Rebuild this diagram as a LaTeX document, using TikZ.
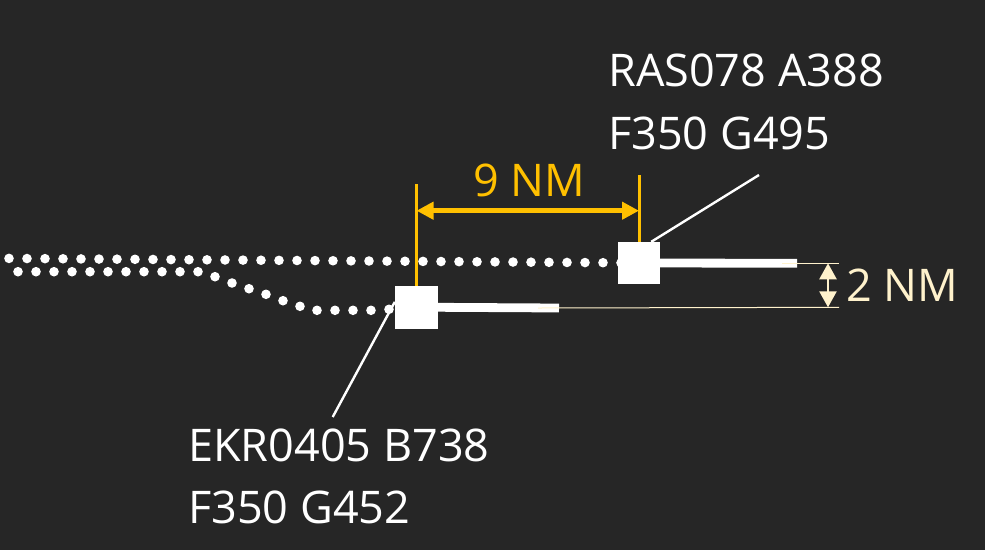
\documentclass[tikz,border=0pt]{standalone}
\usepackage{fontspec}
\setmainfont{Open Sans}
\usetikzlibrary{arrows.meta}
\begin{document}
\begin{tikzpicture}[x=1pt,y=-1pt,
  plane/.style={fill=white,minimum size=43,inner sep=0},
  tag/.style={white,anchor=base west,align=left,inner sep=0,font=\fontsize{45}{62.5}\selectfont},
  dimtext/.style={inner sep=0,anchor=base,font=\fontsize{45}{54}\selectfont},
  leader/.style={white,line width=2.4},
  trail/.style={white,line width=8.8}]
\definecolor{night}{HTML}{262626}
\definecolor{amber}{HTML}{FFC000}
\definecolor{cream}{HTML}{FFF2CC}
\useasboundingbox (0,0) rectangle (985,550);
\fill[night] (0,0) rectangle (985,550);
  \foreach \i in {0,...,34}
  {  \fill[white] (9+18*\i,258.4+0.13*\i) circle (4.8);}
  \foreach \i in {0,...,10}
  {  \fill[white] (18+18*\i,271.7) circle (4.8);}
  \foreach \x/\y in {215/276.7,232/283,249/288.7,266/294.3,283/300.7,300/306.3,317/310.3,335/310.3,353/310.3,371/310.3,389/309.3}
  {  \fill[white] (\x,\y) circle (4.8);}
\node [plane,minimum size=42] (ras) at (639,263) {};
\node [plane] (ekr) at (416.5,307.3) {};
\coordinate (ras-end) at (797,263.3);
\coordinate (ekr-end) at (559,308);
\draw[trail] (ras.east) -- (ras-end);
\draw[trail] (ekr.east) -- (ekr-end);
\coordinate (gap-top) at (839,263.3);
\coordinate (gap-bot) at (839,307.3);
\draw[cream,line width=1] ([xshift=-15]ras-end) -- (gap-top);
\draw[cream,line width=1] ([xshift=-21]ekr-end) -- (gap-bot);
\draw[cream,line width=2.5,{Triangle[length=16pt,width=17pt]}-{Triangle[length=16pt,width=17pt]}]
  ([xshift=-11]gap-top) -- ([xshift=-11]gap-bot);
\node [dimtext,cream,anchor=base west] (two-label) at (846,301.7) {2 NM};
\coordinate (ras-mark) at (639,175);
\coordinate (ekr-mark) at (416.5,184);
\coordinate (nine) at (529.5,210.7);
\draw[amber,line width=3] (ras-mark) -- (ras.north);
\draw[amber,line width=3] (ekr-mark) -- (ekr.north);
\draw[amber,line width=5,{Triangle[length=17pt,width=17pt]}-{Triangle[length=17pt,width=17pt]}]
  (ekr.north |- nine) -- (ras.north |- nine);
\node [dimtext,amber] (nine-label) at (529.5,196) {9 NM};
\node [tag] (ras-tag) at (608,149) {RAS078 A388\\F350 G495};
\node [tag] (ekr-tag) at (188,523.5) {EKR0405 B738\\F350 G452};
\coordinate (ras-lead) at (759,175);
\coordinate (ekr-lead) at (332.7,417);
\draw[leader] (ras-lead) -- (ras.60);
\draw[leader] (ekr-lead) -- (ekr.166);
\end{tikzpicture}
\end{document}
